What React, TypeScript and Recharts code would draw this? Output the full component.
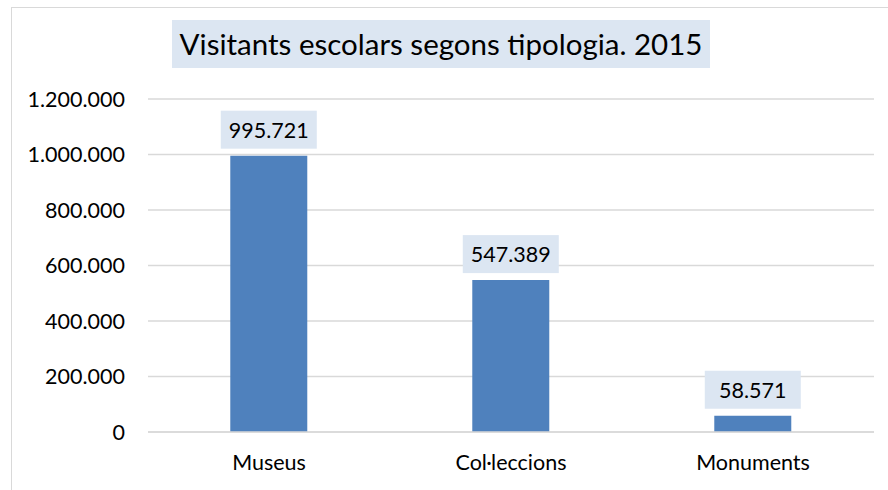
import { BarChart, Bar, XAxis, YAxis, CartesianGrid, LabelList } from 'recharts';

const categories = ['Museus', 'Col·leccions', 'Monuments'];
const visitants = [995721, 547389, 58571];
const yTicks = [0, 200000, 400000, 600000, 800000, 1000000, 1200000];

const data = categories.map((name, i) => ({ name, value: visitants[i] }));

const FONT = 'Lato, "Liberation Sans", sans-serif';

// thousands with dots, as in the original
const fmt = (v: number) => v.toString().replace(/\B(?=(\d{3})+(?!\d))/g, '.');

const ValueLabel = (props: any) => {
  const { x, y, width, value } = props;
  const cx = x + width / 2;
  const w = 96;
  const h = 38;
  const top = y - 7 - h;
  return (
    <g>
      <rect x={cx - w / 2} y={top} width={w} height={h} fill="#dce6f2" />
      <text x={cx} y={top + h / 2} textAnchor="middle" dominantBaseline="central" fontSize={21.5} fontFamily={FONT} fill="#000">
        {fmt(value)}
      </text>
    </g>
  );
};

const App = () => {
  return (
    <div style={{ position: 'absolute', left: 0, top: 0, width: 888, height: 490, overflow: 'hidden', background: '#fff' }}>
      <div style={{ position: 'absolute', left: 11, top: 7, width: 900, height: 500, border: '1px solid #d9d9d9' }} />
      <div
        style={{
          position: 'absolute',
          left: 172,
          top: 20,
          width: 538,
          height: 48,
          background: '#dce6f2',
          fontFamily: FONT,
          fontSize: 29.5,
          lineHeight: '48px',
          textAlign: 'center',
          color: '#000',
        }}
      >
        Visitants escolars segons tipologia. 2015
      </div>
      <div style={{ position: 'absolute', left: 0, top: 0 }}>
        <BarChart width={888} height={490} data={data} margin={{ top: 99, right: 14, bottom: 0, left: 0 }} barCategoryGap="34%">
          <CartesianGrid vertical={false} stroke="#d9d9d9" strokeWidth={1.5} />
          <XAxis
            dataKey="name"
            height={58}
            axisLine={{ stroke: '#d9d9d9', strokeWidth: 1.5 }}
            tickLine={false}
            tickMargin={17}
            tick={{ fill: '#000', fontSize: 21.5, fontFamily: FONT }}
            interval={0}
          />
          <YAxis
            width={148}
            domain={[0, 1200000]}
            ticks={yTicks}
            axisLine={false}
            tickLine={false}
            tickMargin={17}
            tickFormatter={fmt}
            tick={{ fill: '#000', fontSize: 21.5, fontFamily: FONT }}
          />
          <Bar dataKey="value" fill="#4f81bd" isAnimationActive={false}>
            <LabelList dataKey="value" content={ValueLabel} />
          </Bar>
        </BarChart>
      </div>
    </div>
  );
};

export default App;
